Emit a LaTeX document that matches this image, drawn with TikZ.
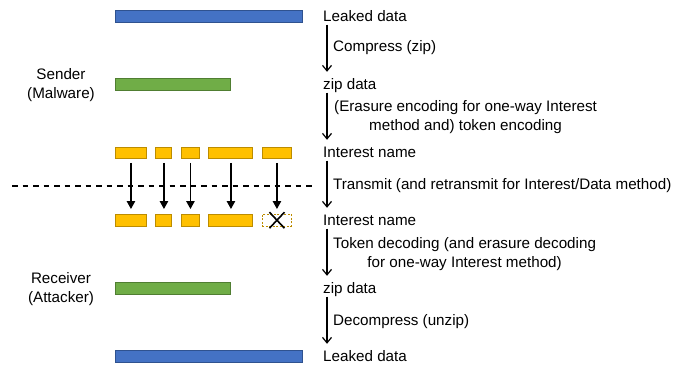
\documentclass[tikz,border=0pt]{standalone}
\usepackage{fontspec}
\setmainfont{Liberation Sans}
\usetikzlibrary{arrows.meta}
\definecolor{barblue}{HTML}{4472C4}
\definecolor{barblueb}{HTML}{2F528F}
\definecolor{bargreen}{HTML}{70AD47}
\definecolor{bargreenb}{HTML}{507E32}
\definecolor{barorange}{HTML}{FFC000}
\definecolor{barorangeb}{HTML}{BC8C00}
\tikzset{
  bar/.style={draw, line width=0.9pt, minimum height=11.5pt, inner sep=0pt, anchor=north west},
  bluebar/.style={bar, fill=barblue, draw=barblueb},
  greenbar/.style={bar, fill=bargreen, draw=bargreenb},
  orangebar/.style={bar, fill=barorange, draw=barorangeb},
  lostbar/.style={bar, draw=barorangeb, dash pattern=on 2pt off 1.5pt},
  rowlabel/.style={anchor=base west, inner sep=0pt, text height=11pt, text depth=3.5pt},
  steplabel/.style={anchor=west, inner sep=0pt, align=center},
  sidelabel/.style={align=center, inner sep=0pt},
  rarrow/.style={line width=1.2pt, -{Straight Barb[length=5.5pt,width=9pt,line width=1.2pt]}},
  darrow/.style={line width=1.2pt, -{Triangle[length=8pt,width=8.5pt]}, shorten <=4pt, shorten >=5pt},
}
\begin{document}
\begin{tikzpicture}[x=1pt,y=-1pt,font=\fontsize{15.2}{19}\selectfont]
\useasboundingbox (0,0) rectangle (674,364);

% bars
\node[bluebar, minimum width=187pt] (b1) at (115,10) {};
\node[greenbar, minimum width=115pt] (g1) at (115,78) {};
\node[greenbar, minimum width=115pt] (g2) at (115,282) {};
\node[bluebar, minimum width=187pt] (b2) at (115,350) {};

% interest tokens (sender)
\node[orangebar, minimum width=31pt] (s1) at (115,146.5) {};
\node[orangebar, minimum width=16pt] (s2) at (155,146.5) {};
\node[orangebar, minimum width=18pt] (s3) at (181,146.5) {};
\node[orangebar, minimum width=44pt] (s4) at (208,146.5) {};
\node[orangebar, minimum width=29pt] (s5) at (262,146.5) {};
% interest tokens (receiver)
\node[orangebar, minimum width=31pt] (r1) at (115,214) {};
\node[orangebar, minimum width=16pt] (r2) at (155,214) {};
\node[orangebar, minimum width=18pt] (r3) at (181,214) {};
\node[orangebar, minimum width=44pt] (r4) at (208,214) {};
\node[lostbar, minimum width=29pt] (r5) at (262,214) {};

% cross on lost token
\coordinate (xa) at ([xshift=-7.5pt,yshift=-8pt]r5.center);
\coordinate (xb) at ([xshift=7.5pt,yshift=8pt]r5.center);
\coordinate (xc) at ([xshift=-7.5pt,yshift=8pt]r5.center);
\coordinate (xd) at ([xshift=7.5pt,yshift=-8pt]r5.center);
\draw[line width=1.6pt] (xa) -- (xb);
\draw[line width=1.6pt] (xc) -- (xd);

% dashed boundary
\coordinate (dl) at (12,186);
\coordinate (dr) at (313,186);
\draw[line width=1.2pt, dash pattern=on 5.5pt off 5pt] (dl) -- (dr);

% token arrows
\draw[darrow] (s1.south) -- (r1.north);
\draw[darrow] ([xshift=0.5pt]s2.south) -- ([xshift=0.5pt]r2.north);
\draw[darrow] (s3.south) -- (r3.north);
\draw[darrow] ([xshift=0.5pt]s4.south) -- ([xshift=0.5pt]r4.north);
\draw[darrow] (s5.south) -- (r5.north);

% row labels
\node[rowlabel] (t1) at (323,21) {Leaked data};
\node[rowlabel] (t2) at (323,89) {zip data};
\node[rowlabel] (t3) at (323,157) {Interest name};
\node[rowlabel] (t4) at (323,225) {Interest name};
\node[rowlabel] (t5) at (323,293) {zip data};
\node[rowlabel] (t6) at (323,361) {Leaked data};

% right-hand arrows
\draw[rarrow, shorten >=6pt] ([xshift=4pt]t1.south west) -- ([xshift=4pt]t2.north west);
\draw[rarrow, shorten >=6pt] ([xshift=4pt]t2.south west) -- ([xshift=4pt]t3.north west);
\draw[rarrow, shorten >=6pt] ([xshift=4pt]t3.south west) -- ([xshift=4pt]t4.north west);
\draw[rarrow, shorten >=6pt] ([xshift=4pt]t4.south west) -- ([xshift=4pt]t5.north west);
\draw[rarrow, shorten >=6pt] ([xshift=4pt]t5.south west) -- ([xshift=4pt]t6.north west);

% step labels
\node[steplabel] (l1) at (333,48) {Compress (zip)};
\node[steplabel] (l2) at (334,117.5) {(Erasure encoding for one-way Interest\\method and) token encoding};
\node[steplabel] (l3) at (333,186) {Transmit (and retransmit for Interest/Data method)};
\node[steplabel] (l4) at (333,254.5) {Token decoding (and erasure decoding\\for one-way Interest method)};
\node[steplabel] (l5) at (333,322) {Decompress (unzip)};

% side labels
\node[sidelabel] (snd) at (61,85) {Sender\\(Malware)};
\node[sidelabel] (rcv) at (61,289) {Receiver\\(Attacker)};
\end{tikzpicture}
\end{document}
